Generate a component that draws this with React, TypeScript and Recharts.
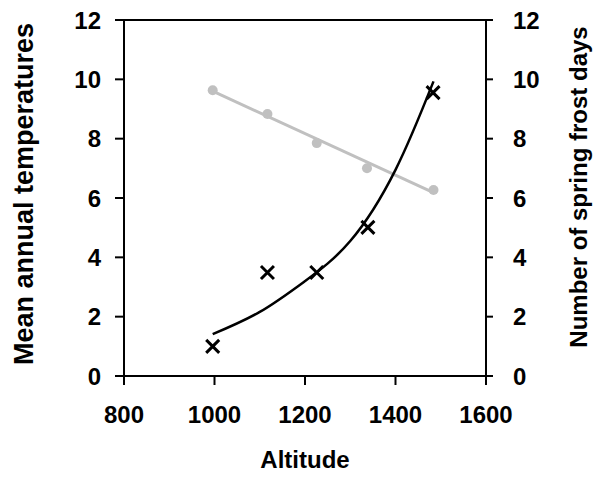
import React from "react";
import {
  ComposedChart,
  XAxis,
  YAxis,
  Scatter,
  Line,
  ReferenceLine,
  Label,
} from "recharts";

const FONT = "'Liberation Sans', Arial, sans-serif";

const altitudeTicks = [800, 1000, 1200, 1400, 1600];
const valueTicks = [0, 2, 4, 6, 8, 10, 12];

// mean annual temperature (grey dots, left axis)
const temperature = [
  { x: 996, y: 9.63 },
  { x: 1117, y: 8.83 },
  { x: 1226, y: 7.85 },
  { x: 1337, y: 7.0 },
  { x: 1484, y: 6.27 },
];

// number of spring frost days (black crosses, right axis)
const frostDays = [
  { x: 996, y: 1.0 },
  { x: 1117, y: 3.49 },
  { x: 1226, y: 3.49 },
  { x: 1339, y: 5.01 },
  { x: 1483, y: 9.55 },
];

// trend lines
const temperatureTrend = [
  { x: 996, y: 9.6 },
  { x: 1484, y: 6.18 },
];

const frostTrend = [
  { x: 996, y: 1.41 },
  { x: 1100, y: 2.16 },
  { x: 1200, y: 3.2 },
  { x: 1300, y: 4.55 },
  { x: 1400, y: 6.95 },
  { x: 1484, y: 9.93 },
];

const tickStyle = { fill: "#000", fontSize: 24, fontWeight: 700, fontFamily: FONT };
const lineStyle = { stroke: "#000", strokeWidth: 2 };

const Cross = (props: any) => {
  const { cx, cy } = props;
  const s = 6.5;
  return (
    <path
      d={`M${cx - s},${cy - s}L${cx + s},${cy + s}M${cx - s},${cy + s}L${cx + s},${cy - s}`}
      stroke="#000"
      strokeWidth={3}
      fill="none"
    />
  );
};

const Dot = (props: any) => {
  const { cx, cy } = props;
  return <circle cx={cx} cy={cy} r={5} fill="#c0c0c0" />;
};

export default function App() {
  return (
    <div style={{ position: "absolute", left: 0, top: 0 }}>
      <ComposedChart
        width={603}
        height={480}
        margin={{ top: 20, right: 0, bottom: 0, left: 0 }}
      >
        <XAxis
          type="number"
          dataKey="x"
          domain={[800, 1600]}
          ticks={altitudeTicks}
          axisLine={lineStyle}
          tickLine={lineStyle}
          tickSize={9}
          tickMargin={21}
          tick={tickStyle}
          height={104}
          allowDataOverflow
        >
          <Label
            content={({ viewBox }: any) => (
              <text
                x={viewBox.x + viewBox.width / 2}
                y={viewBox.y + 92}
                textAnchor="middle"
                style={tickStyle}
              >
                Altitude
              </text>
            )}
          />
        </XAxis>
        <YAxis
          yAxisId="left"
          type="number"
          domain={[0, 12]}
          ticks={valueTicks}
          axisLine={lineStyle}
          tickLine={lineStyle}
          tickSize={9}
          tickMargin={14}
          tick={tickStyle}
          width={124}
        >
          <Label
            content={({ viewBox }: any) => {
              const cx = 33;
              const cy = viewBox.y + viewBox.height / 2 - 4;
              return (
                <text
                  x={cx}
                  y={cy}
                  transform={`rotate(-90 ${cx} ${cy})`}
                  textAnchor="middle"
                  style={{ ...tickStyle, fontSize: 27 }}
                >
                  Mean annual temperatures
                </text>
              );
            }}
          />
        </YAxis>
        <YAxis
          yAxisId="right"
          orientation="right"
          type="number"
          domain={[0, 12]}
          ticks={valueTicks}
          axisLine={lineStyle}
          tickLine={lineStyle}
          tickSize={7}
          tickMargin={20}
          tick={tickStyle}
          width={117}
        >
          <Label
            content={({ viewBox }: any) => {
              const cx = viewBox.x + 101;
              const cy = viewBox.y + viewBox.height / 2 - 11;
              return (
                <text
                  x={cx}
                  y={cy}
                  transform={`rotate(-90 ${cx} ${cy})`}
                  textAnchor="middle"
                  style={tickStyle}
                >
                  Number of spring frost days
                </text>
              );
            }}
          />
        </YAxis>
        <ReferenceLine yAxisId="left" y={12} stroke="#000" strokeWidth={2} />
        <Line
          yAxisId="left"
          data={temperatureTrend}
          dataKey="y"
          type="linear"
          stroke="#c0c0c0"
          strokeWidth={3}
          dot={false}
          activeDot={false}
          isAnimationActive={false}
        />
        <Scatter
          yAxisId="left"
          data={temperature}
          dataKey="y"
          shape={Dot}
          isAnimationActive={false}
        />
        <Line
          yAxisId="right"
          data={frostTrend}
          dataKey="y"
          type="natural"
          stroke="#000"
          strokeWidth={2.5}
          dot={false}
          activeDot={false}
          isAnimationActive={false}
        />
        <Scatter
          yAxisId="right"
          data={frostDays}
          dataKey="y"
          shape={Cross}
          isAnimationActive={false}
        />
      </ComposedChart>
    </div>
  );
}
